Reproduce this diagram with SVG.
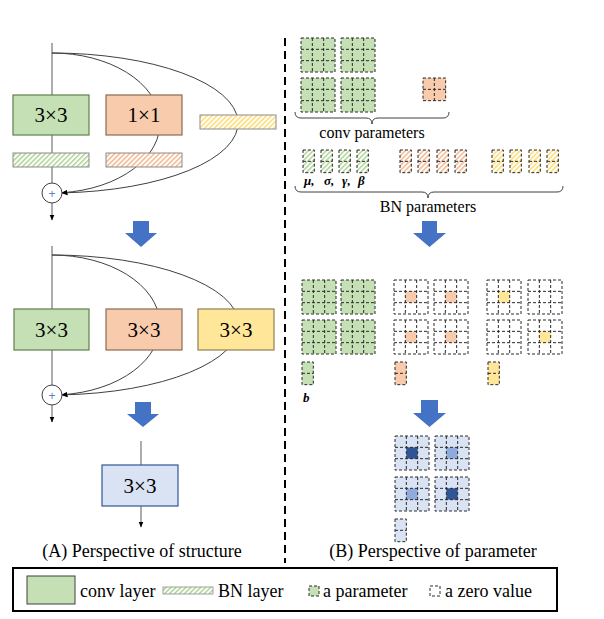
<svg xmlns="http://www.w3.org/2000/svg" xmlns:xlink="http://www.w3.org/1999/xlink" width="604" height="619" viewBox="0 0 604 619">
<style>
.t{font-family:"Liberation Serif","Times New Roman",serif;fill:#000}
.box{font-size:21px}
.cap{font-size:18px}
.lg{font-size:18px}
.sm{font-size:16px}
.gk{font-size:13px;font-weight:bold;font-style:italic}
.dl{stroke:#2a2a2a;stroke-width:1;stroke-dasharray:3 2}
.main{stroke:#808080;stroke-width:1.3;fill:none}
.cv{stroke:#404040;stroke-width:1;fill:none}
.br{stroke:#404040;stroke-width:1;fill:none}
.barr{fill:#4472c4}
</style>
<defs>
<pattern id="hG" width="3.5" height="3.5" patternUnits="userSpaceOnUse" patternTransform="rotate(45)"><rect width="3.5" height="3.5" fill="#fff"/><rect width="1.4" height="3.5" fill="#a9d18e"/></pattern>
<pattern id="hO" width="3.5" height="3.5" patternUnits="userSpaceOnUse" patternTransform="rotate(45)"><rect width="3.5" height="3.5" fill="#fff"/><rect width="1.4" height="3.5" fill="#f4b183"/></pattern>
<pattern id="hY" width="3.5" height="3.5" patternUnits="userSpaceOnUse" patternTransform="rotate(45)"><rect width="3.5" height="3.5" fill="#fff"/><rect width="1.4" height="3.5" fill="#ffd966"/></pattern>
<marker id="ah" markerWidth="6" markerHeight="6" refX="5.5" refY="3" orient="auto" markerUnits="userSpaceOnUse"><path d="M0,0.5 L6,3 L0,5.5 z" fill="#000"/></marker>
<g id="g3"><rect x="0" y="0" width="34" height="34" class="dl"/><path d="M11.33,0V34M22.67,0V34M0,11.33H34M0,22.67H34" class="dl" fill="none"/></g>
<g id="g2"><rect x="0" y="0" width="22.67" height="22.67" class="dl"/><path d="M11.33,0V22.67M0,11.33H22.67" class="dl" fill="none"/></g>
<g id="c2"><rect x="0" y="0" width="11.33" height="22.67" class="dl"/><path d="M0,11.33H11.33" class="dl" fill="none"/></g>
</defs>
<rect width="604" height="619" fill="#fff"/>

<g id="connectors">
<path class="main" d="M52,43 V183"/>
<path class="main" d="M52,203 V220" marker-end="url(#ah)"/>
<path class="cv" d="M52,53 A108,70 0 0 1 62,192.7" marker-end="url(#ah)"/>
<path class="cv" d="M52,53 A186,70 0 0 1 62,192.9" marker-end="url(#ah)"/>
<path class="main" d="M52,246 V385"/>
<path class="main" d="M52,405 V422" marker-end="url(#ah)"/>
<path class="cv" d="M52,255 A108,70 0 0 1 62,394.7" marker-end="url(#ah)"/>
<path class="cv" d="M52,255 A187,70 0 0 1 62,394.9" marker-end="url(#ah)"/>
<path class="main" d="M141,441 V465"/>
<path class="main" d="M141,506 V527" marker-end="url(#ah)"/>
</g>

<g id="s1-conv3">
<rect x="13" y="95" width="76" height="40" fill="#c5e0b4" stroke="#5f7f50" stroke-width="1.2"/>
<text class="t box" x="51" y="122" text-anchor="middle">3×3</text>
</g>
<g id="s1-conv1">
<rect x="106" y="95" width="76" height="40" fill="#f8cbad" stroke="#8c6a55" stroke-width="1.2"/>
<text class="t box" x="144" y="122" text-anchor="middle">1×1</text>
</g>
<g id="s1-bn-id"><rect x="200" y="115" width="76" height="14" fill="url(#hY)" stroke="#8c8c8c" stroke-width="1"/></g>
<g id="s1-bn-3"><rect x="13" y="153" width="76" height="14" fill="url(#hG)" stroke="#8c8c8c" stroke-width="1"/></g>
<g id="s1-bn-1"><rect x="106" y="153" width="76" height="14" fill="url(#hO)" stroke="#8c8c8c" stroke-width="1"/></g>
<g id="s1-add">
<circle cx="52" cy="193" r="10" fill="#fff" stroke="#404040" stroke-width="1"/>
<text x="52" y="197.5" text-anchor="middle" font-family="Liberation Sans, Arial, sans-serif" font-size="12" fill="#5b7fbf">+</text>
</g>

<g id="arrow1"><polygon class="barr" points="133,221 149,221 149,233 157,233 141,247 125,233 133,233"/></g>

<g id="s2-conv3a">
<rect x="14" y="309" width="75" height="41" fill="#c5e0b4" stroke="#5f7f50" stroke-width="1.2"/>
<text class="t box" x="51.5" y="336.5" text-anchor="middle">3×3</text>
</g>
<g id="s2-conv3b">
<rect x="106" y="309" width="76" height="41" fill="#f8cbad" stroke="#8c6a55" stroke-width="1.2"/>
<text class="t box" x="144" y="336.5" text-anchor="middle">3×3</text>
</g>
<g id="s2-conv3c">
<rect x="198" y="309" width="76" height="41" fill="#ffe699" stroke="#8f8050" stroke-width="1.2"/>
<text class="t box" x="236" y="336.5" text-anchor="middle">3×3</text>
</g>
<g id="s2-add">
<circle cx="52" cy="395" r="10" fill="#fff" stroke="#404040" stroke-width="1"/>
<text x="52" y="399.5" text-anchor="middle" font-family="Liberation Sans, Arial, sans-serif" font-size="12" fill="#5b7fbf">+</text>
</g>

<g id="arrow2"><polygon class="barr" points="135,402 151,402 151,414 159,414 143,427 127,414 135,414"/></g>

<g id="s3-conv">
<rect x="102" y="465" width="76" height="41" fill="#dae3f3" stroke="#2f5597" stroke-width="1.2"/>
<text class="t box" x="140" y="492.5" text-anchor="middle">3×3</text>
</g>

<g id="divider"><path d="M285,38 V563" stroke="#000" stroke-width="2" stroke-dasharray="8 5"/></g>

<g id="conv-params">
<use href="#g3" x="301" y="38" fill="#c5e0b4"/>
<use href="#g3" x="341" y="38" fill="#c5e0b4"/>
<use href="#g3" x="301" y="78" fill="#c5e0b4"/>
<use href="#g3" x="341" y="78" fill="#c5e0b4"/>
<use href="#g2" x="423" y="78" fill="#f8cbad"/>
<path class="br" d="M295,112 Q295,118 301,118 H366 Q372,118 372,124 Q372,118 378,118 H443 Q449,118 449,112"/>
<text class="t sm" x="372" y="138" text-anchor="middle">conv parameters</text>
</g>

<g id="bn-params">
<use href="#c2" x="303" y="150" fill="url(#hG)"/>
<use href="#c2" x="321" y="150" fill="url(#hG)"/>
<use href="#c2" x="339" y="150" fill="url(#hG)"/>
<use href="#c2" x="357" y="150" fill="url(#hG)"/>
<use href="#c2" x="400" y="150" fill="url(#hO)"/>
<use href="#c2" x="418" y="150" fill="url(#hO)"/>
<use href="#c2" x="437" y="150" fill="url(#hO)"/>
<use href="#c2" x="455" y="150" fill="url(#hO)"/>
<use href="#c2" x="492" y="150" fill="url(#hY)"/>
<use href="#c2" x="510" y="150" fill="url(#hY)"/>
<use href="#c2" x="529" y="150" fill="url(#hY)"/>
<use href="#c2" x="547" y="150" fill="url(#hY)"/>
<text class="t gk" x="304" y="185">μ,</text>
<text class="t gk" x="324" y="185">σ,</text>
<text class="t gk" x="342" y="185">γ,</text>
<text class="t gk" x="358" y="185">β</text>
<path class="br" d="M295,186 Q295,192 301,192 H422 Q428,192 428,198 Q428,192 434,192 H557 Q563,192 563,186"/>
<text class="t sm" x="428" y="212" text-anchor="middle">BN parameters</text>
</g>

<g id="arrow3"><polygon class="barr" points="422,221 437,221 437,233 446,233 429.5,247 413,233 422,233"/></g>

<g id="merged-params">
<use href="#g3" x="302" y="280" fill="#c5e0b4"/>
<use href="#g3" x="341" y="280" fill="#c5e0b4"/>
<use href="#g3" x="302" y="320" fill="#c5e0b4"/>
<use href="#g3" x="341" y="320" fill="#c5e0b4"/>
<rect x="405.33" y="291.33" width="11.33" height="11.33" fill="#f8cbad"/>
<rect x="445.33" y="291.33" width="11.33" height="11.33" fill="#f8cbad"/>
<rect x="405.33" y="331.33" width="11.33" height="11.33" fill="#f8cbad"/>
<rect x="445.33" y="331.33" width="11.33" height="11.33" fill="#f8cbad"/>
<use href="#g3" x="394" y="280" fill="none"/>
<use href="#g3" x="434" y="280" fill="none"/>
<use href="#g3" x="394" y="320" fill="none"/>
<use href="#g3" x="434" y="320" fill="none"/>
<rect x="498.33" y="291.33" width="11.33" height="11.33" fill="#ffe699"/>
<rect x="539.33" y="331.33" width="11.33" height="11.33" fill="#ffe699"/>
<use href="#g3" x="487" y="280" fill="none"/>
<use href="#g3" x="528" y="280" fill="none"/>
<use href="#g3" x="487" y="320" fill="none"/>
<use href="#g3" x="528" y="320" fill="none"/>
<use href="#c2" x="302" y="362" fill="#c5e0b4"/>
<use href="#c2" x="395" y="362" fill="#f8cbad"/>
<use href="#c2" x="488" y="362" fill="#ffe699"/>
<text class="t gk" x="303" y="402">b</text>
</g>

<g id="arrow4"><polygon class="barr" points="421,400 438,400 438,413 446,413 429.5,427 413,413 421,413"/></g>

<g id="final-params">
<rect x="395" y="436" width="34" height="34" fill="#dae3f3"/>
<rect x="435" y="436" width="34" height="34" fill="#dae3f3"/>
<rect x="395" y="477" width="34" height="34" fill="#dae3f3"/>
<rect x="435" y="477" width="34" height="34" fill="#dae3f3"/>
<rect x="406.33" y="447.33" width="11.33" height="11.33" fill="#2f5597"/>
<rect x="446.33" y="447.33" width="11.33" height="11.33" fill="#8faadc"/>
<rect x="406.33" y="488.33" width="11.33" height="11.33" fill="#8faadc"/>
<rect x="446.33" y="488.33" width="11.33" height="11.33" fill="#2f5597"/>
<use href="#g3" x="395" y="436" fill="none"/>
<use href="#g3" x="435" y="436" fill="none"/>
<use href="#g3" x="395" y="477" fill="none"/>
<use href="#g3" x="435" y="477" fill="none"/>
<use href="#c2" x="395" y="519" fill="#dae3f3"/>
</g>

<g id="captions">
<text class="t cap" x="142" y="557" text-anchor="middle">(A) Perspective of structure</text>
<text class="t cap" x="433" y="557" text-anchor="middle">(B) Perspective of parameter</text>
</g>

<g id="legend">
<rect x="13" y="568" width="544" height="43" fill="#fff" stroke="#000" stroke-width="2"/>
<rect x="27" y="576" width="48" height="28" fill="#c5e0b4" stroke="#404040" stroke-width="1"/>
<text class="t lg" x="80" y="597">conv layer</text>
<rect x="163" y="587" width="50" height="7" fill="url(#hG)" stroke="#8c8c8c" stroke-width="0.8"/>
<text class="t lg" x="218" y="597">BN layer</text>
<rect x="309" y="586" width="10" height="10" fill="#c5e0b4" class="dl"/>
<text class="t lg" x="323" y="597">a parameter</text>
<rect x="430" y="586" width="10" height="10" fill="none" class="dl"/>
<text class="t lg" x="445" y="597">a zero value</text>
</g>
</svg>
